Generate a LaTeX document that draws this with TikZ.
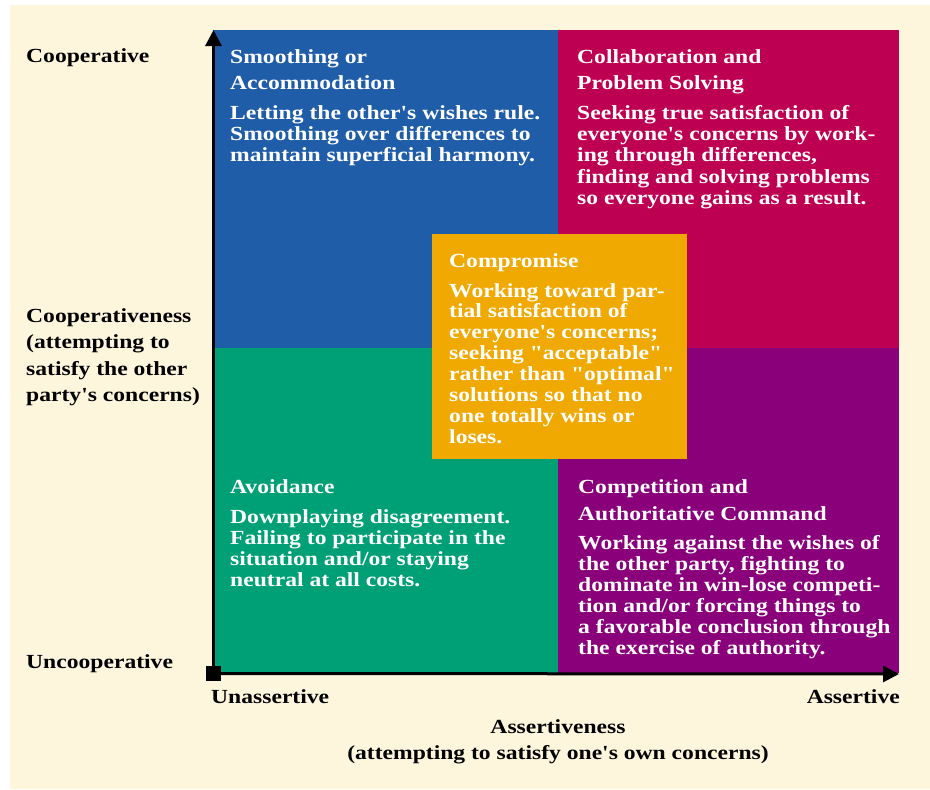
\documentclass[tikz,border=0pt]{standalone}
\usepackage{fontspec}
\setmainfont{Liberation Serif}[FakeStretch=1.18, Ligatures=TeXOff]
\usetikzlibrary{arrows.meta}
\definecolor{cream}{HTML}{FEF6DC}
\definecolor{qblue}{HTML}{1F5DA9}
\definecolor{qcrimson}{HTML}{BE0052}
\definecolor{qgreen}{HTML}{00A076}
\definecolor{qpurple}{HTML}{8A007A}
\definecolor{qorange}{HTML}{F0A900}
\newcommand\txtlines[2]{\vtop{\baselineskip=#1\lineskiplimit=-100pt\lineskip=0pt\halign{##\hfil\cr#2\crcr}}}
\newcommand\ctrlines[2]{\vtop{\baselineskip=#1\lineskiplimit=-100pt\lineskip=0pt\halign{\hfil##\hfil\cr#2\crcr}}}
\tikzset{
  txt/.style={inner sep=0pt, font=\fontsize{20}{21}\selectfont\bfseries, anchor=base west},
  wtxt/.style={txt, text=white},
  quad/.style={inner sep=0pt, draw=none, anchor=north west},
  axis/.style={line width=3pt, -{Triangle[length=16pt,width=16pt]}},
}
\begin{document}
\begin{tikzpicture}[x=1pt,y=-1pt]
\useasboundingbox (0,0) rectangle (930,790);
\fill[white] (0,0) rectangle (930,790);
\fill[cream] (10,5) rectangle (930,789);
% quadrants
\node[quad, fill=qblue, minimum width=345pt, minimum height=318pt] (qb) at (213,30) {};
\node[quad, fill=qcrimson, minimum width=341pt, minimum height=318pt] (qc) at (558,30) {};
\node[quad, fill=qgreen, minimum width=345pt, minimum height=325pt] (qg) at (213,347.5) {};
\node[quad, fill=qpurple, minimum width=341pt, minimum height=325pt] (qp) at (558,347.5) {};
\node[quad, fill=qorange, minimum width=255pt, minimum height=225pt] (qo) at (432,234) {};
% axes
\coordinate (O) at (213.5,673.5);
\coordinate (ytop) at (213.5,30);
\coordinate (xend) at (899,674);
\draw[axis] (O) -- (ytop);
\draw[axis] (O) -- (xend);
\node[fill=black, minimum size=15pt, inner sep=0pt] (sq) at (O) {};
% blue
\node[wtxt] (tb) at (230,63) {\txtlines{26pt}{Smoothing or\cr Accommodation}};
\node[wtxt] (bb) at (230,119) {\txtlines{21.4pt}{Letting the other's wishes rule.\cr Smoothing over differences to\cr maintain superficial harmony.}};
% crimson
\node[wtxt] (tc) at (577,63) {\txtlines{26.5pt}{Collaboration and\cr Problem Solving}};
\node[wtxt] (bc) at (577,119) {\txtlines{21.4pt}{Seeking true satisfaction of\cr everyone's concerns by work-\cr ing through differences,\cr finding and solving problems\cr so everyone gains as a result.}};
% compromise
\node[wtxt] (to) at (449,267) {\txtlines{26pt}{Compromise}};
\node[wtxt] (bo) at (449,297) {\txtlines{20.9pt}{Working toward par-\cr tial satisfaction of\cr everyone's concerns;\cr seeking "acceptable"\cr rather than "optimal"\cr solutions so that no\cr one totally wins or\cr loses.}};
% green
\node[wtxt] (tg) at (230,493) {\txtlines{26pt}{Avoidance}};
\node[wtxt] (bg) at (230,523) {\txtlines{21.3pt}{Downplaying disagreement.\cr Failing to participate in the\cr situation and/or staying\cr neutral at all costs.}};
% purple
\node[wtxt] (tp) at (578,493) {\txtlines{27pt}{Competition and\cr Authoritative Command}};
\node[wtxt] (bp) at (578,549) {\txtlines{21pt}{Working against the wishes of\cr the other party, fighting to\cr dominate in win-lose competi-\cr tion and/or forcing things to\cr a favorable conclusion through\cr the exercise of authority.}};
% axis labels
\node[txt] (lcoop) at (26,62) {Cooperative};
\node[txt] (lcoopness) at (26,322) {\txtlines{26.6pt}{Cooperativeness\cr (attempting to\cr satisfy the other\cr party's concerns)}};
\node[txt] (luncoop) at (26,668) {Uncooperative};
\node[txt] (lunass) at (211,703) {Unassertive};
\node[txt, anchor=base east] (lass) at (900,703) {Assertive};
\node[txt, anchor=base] (lassness) at (558,733) {\ctrlines{26pt}{Assertiveness\cr (attempting to satisfy one's own concerns)}};
\end{tikzpicture}
\end{document}
